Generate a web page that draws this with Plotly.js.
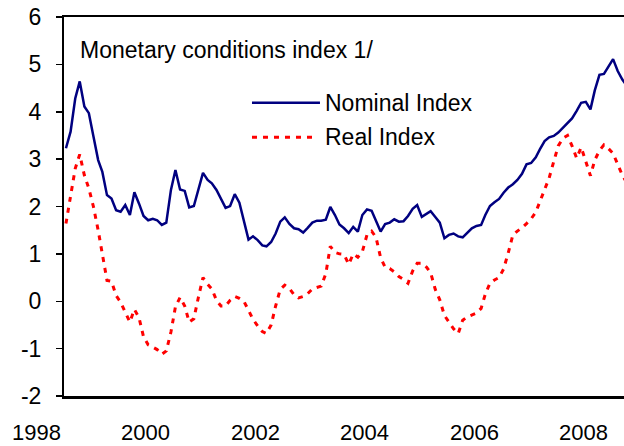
<!DOCTYPE html>
<html>
<head>
<meta charset="utf-8">
<script src="https://cdn.plot.ly/plotly-3.0.1.min.js"></script>
<style>html,body{margin:0;padding:0;background:#fff;}#chart{width:624px;height:446px;}</style>
</head>
<body>
<div id="chart"></div>
<script>
// Monthly observations starting July 1998
var startYear = 1998;
var startMonth = 7;
var nominalIndex = [3.23,3.58,4.28,4.64,4.11,3.97,3.47,2.98,2.73,2.24,
  2.17,1.92,1.89,2.03,1.82,2.30,2.06,1.80,1.71,1.74,
  1.71,1.61,1.66,2.35,2.77,2.36,2.33,1.98,2.01,2.35,
  2.71,2.56,2.49,2.35,2.15,1.97,2.01,2.26,2.08,1.71,
  1.30,1.37,1.29,1.18,1.16,1.25,1.43,1.68,1.77,1.63,
  1.54,1.52,1.45,1.55,1.66,1.70,1.70,1.72,1.99,1.82,
  1.62,1.54,1.44,1.57,1.47,1.82,1.94,1.91,1.69,1.47,
  1.63,1.66,1.73,1.68,1.69,1.80,1.95,2.03,1.78,1.84,
  1.90,1.78,1.66,1.33,1.40,1.43,1.37,1.35,1.45,1.54,
  1.59,1.61,1.82,2.01,2.09,2.16,2.29,2.40,2.47,2.56,
  2.69,2.89,2.92,3.04,3.21,3.38,3.46,3.49,3.56,3.66,
  3.76,3.86,4.02,4.19,4.21,4.05,4.45,4.78,4.80,4.97,
  5.11,4.86,4.68,4.55];
var realIndex = [1.64,2.20,2.80,3.10,2.66,2.38,1.99,1.50,1.01,0.44,
  0.42,0.12,-0.02,-0.22,-0.44,-0.17,-0.35,-0.75,-0.92,-0.97,
  -1.02,-1.12,-1.05,-0.65,-0.12,0.08,-0.10,-0.44,-0.37,0.08,
  0.50,0.36,0.26,0.02,-0.10,-0.10,0.02,0.10,0.06,0.00,
  -0.18,-0.38,-0.52,-0.64,-0.68,-0.50,-0.10,0.25,0.34,0.27,
  0.14,0.07,0.10,0.16,0.26,0.29,0.32,0.58,1.16,1.03,
  1.00,0.99,0.78,1.00,0.93,1.05,1.40,1.48,1.35,0.92,
  0.72,0.69,0.62,0.52,0.46,0.38,0.64,0.80,0.80,0.72,
  0.60,0.25,0.03,-0.30,-0.45,-0.58,-0.68,-0.40,-0.33,-0.29,
  -0.25,-0.15,0.15,0.38,0.45,0.50,0.68,1.02,1.40,1.48,
  1.55,1.64,1.74,1.88,2.10,2.35,2.60,2.95,3.28,3.44,
  3.50,3.28,3.02,3.25,2.95,2.65,2.98,3.18,3.30,3.22,
  3.12,2.90,2.66,2.50];
var yearLabels = ["1998","2000","2002","2004","2006","2008"];
var yTickVals = [-2,-1,0,1,2,3,4,5,6];
var yTickText = ["-2","-1","0","1","2","3","4","5","6"];
var seriesNames = ["Nominal Index","Real Index"];
var chartTitle = "Monetary conditions index 1/";

var xRange = ["1998-06-18","2008-09-12"];

function pad(n){return (n<10?"0":"")+n;}
var dates = [];
for (var i=0;i<nominalIndex.length;i++){
  var m = startMonth-1+i;
  var y = startYear + Math.floor(m/12);
  var mm = (m%12)+1;
  dates.push(y+"-"+pad(mm)+"-01");
}

var FONT = "Liberation Sans, Arial, Helvetica, sans-serif";
var navy = "#000080", red = "#ff0000";

var traces = [
  {x: dates, y: nominalIndex, type:"scatter", mode:"lines", name: seriesNames[0],
   line:{color:navy, width:2.5}, showlegend:false},
  {x: dates, y: realIndex, type:"scatter", mode:"lines", name: seriesNames[1],
   line:{color:red, width:3, dash:"5px,6px"}, showlegend:false}
];

var t0 = Date.parse(xRange[0]+"T00:00:00Z"), t1 = Date.parse(xRange[1]+"T00:00:00Z");
var annotations = [];
yearLabels.forEach(function(lbl){
  var t = Date.UTC(parseInt(lbl,10),0,1) - 15*86400000;
  annotations.push({xref:"paper", yref:"paper", x:(t-t0)/(t1-t0), y:-0.0955,
    text:lbl, showarrow:false, xanchor:"center", yanchor:"middle", borderpad:0,
    font:{family:FONT, size:22, color:"#000"}});
});
annotations.push({xref:"paper", yref:"paper", x:0.025, y:0.913, text:chartTitle,
  showarrow:false, xanchor:"left", yanchor:"middle", font:{family:FONT, size:23, color:"#000"}});
annotations.push({xref:"paper", yref:"paper", x:0.463, y:0.773, text:seriesNames[0],
  showarrow:false, xanchor:"left", yanchor:"middle", font:{family:FONT, size:23, color:"#000"}});
annotations.push({xref:"paper", yref:"paper", x:0.463, y:0.683, text:seriesNames[1],
  showarrow:false, xanchor:"left", yanchor:"middle", font:{family:FONT, size:23, color:"#000"}});

var shapes = [
  {type:"line", xref:"paper", yref:"paper", x0:0.3357, x1:0.4571, y0:0.774, y1:0.774,
   line:{color:navy, width:2.5}},
  {type:"line", xref:"paper", yref:"paper", x0:0.3357, x1:0.4500, y0:0.683, y1:0.683,
   line:{color:red, width:3, dash:"5px,6px"}}
];

var layout = {
  width:624, height:446,
  margin:{l:64, r:0, t:17, b:50, pad:0},
  paper_bgcolor:"#fff", plot_bgcolor:"#fff",
  showlegend:false,
  xaxis:{type:"date", range:xRange, showgrid:false, zeroline:false,
    showline:true, linecolor:"#000", linewidth:2.5, mirror:true,
    ticks:"", showticklabels:false, fixedrange:true},
  yaxis:{range:[-2,6], tickmode:"array", tickvals:yTickVals, ticktext:yTickText,
    showgrid:false, zeroline:false,
    showline:true, linecolor:"#000", linewidth:2, ticks:"outside", ticklen:6,
    tickwidth:1.5, tickcolor:"#000", ticklabelstandoff:10,
    tickfont:{family:FONT, size:23, color:"#000"}, fixedrange:true},
  annotations:annotations,
  shapes:shapes
};

Plotly.newPlot("chart", traces, layout, {displayModeBar:false, staticPlot:true});
</script>
</body>
</html>
